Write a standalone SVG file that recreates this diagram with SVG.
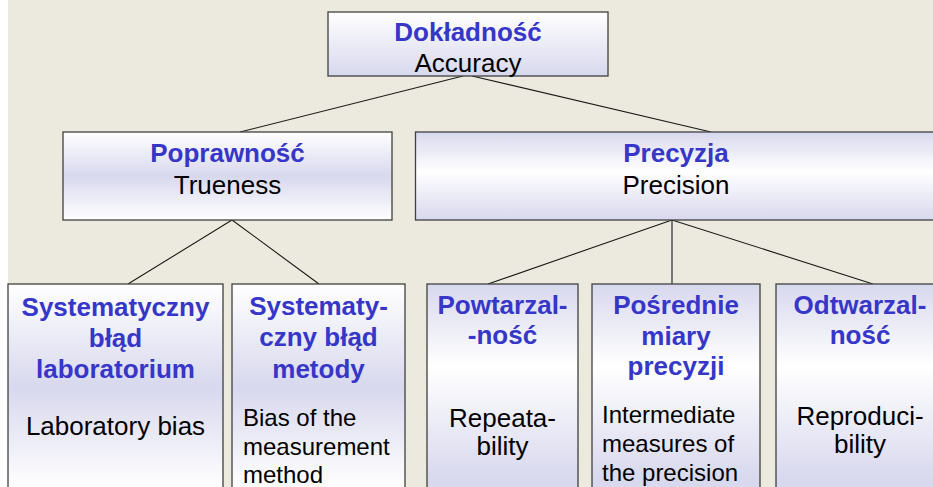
<svg xmlns="http://www.w3.org/2000/svg" width="933" height="487" viewBox="0 0 933 487">
<defs>
<linearGradient id="gTop" x1="0" y1="0" x2="0" y2="1">
<stop offset="0" stop-color="#ffffff"/><stop offset="1" stop-color="#d8d8ee"/>
</linearGradient>
<linearGradient id="gWLW" x1="0" y1="0" x2="0" y2="1">
<stop offset="0" stop-color="#ffffff"/><stop offset="0.5" stop-color="#d8d8ee"/><stop offset="1" stop-color="#ffffff"/>
</linearGradient>
<linearGradient id="gLWL" x1="0" y1="0" x2="0" y2="1">
<stop offset="0" stop-color="#d8d8ee"/><stop offset="0.45" stop-color="#ffffff"/><stop offset="1" stop-color="#d8d8ee"/>
</linearGradient>
<linearGradient id="gLWL2" x1="0" y1="0" x2="0" y2="1">
<stop offset="0" stop-color="#d8d8ee"/><stop offset="0.4" stop-color="#ffffff"/><stop offset="0.95" stop-color="#d8d8ee"/>
</linearGradient>
</defs>
<style>
.box{stroke:#404040;stroke-width:1.3}
.pl{font-family:"Liberation Sans",Arial,sans-serif;font-size:26px;font-weight:bold;fill:#3636c8;text-anchor:middle}
.en{font-family:"Liberation Sans",Arial,sans-serif;font-size:26px;fill:#000;text-anchor:middle}
.enl{font-family:"Liberation Sans",Arial,sans-serif;font-size:24px;fill:#000}
.ln{stroke:#1a1a1a;stroke-width:1.1;fill:none}
</style>
<rect x="0" y="0" width="933" height="487" fill="#ece9df"/>
<rect x="0" y="0" width="8" height="487" fill="#ffffff"/>
<g id="connectors">
<line class="ln" x1="463" y1="76" x2="240" y2="132"/>
<line class="ln" x1="472" y1="76" x2="711" y2="132"/>
<line class="ln" x1="232" y1="220" x2="128" y2="284"/>
<line class="ln" x1="232" y1="220" x2="319" y2="284"/>
<line class="ln" x1="672" y1="220" x2="488" y2="284"/>
<line x1="672" y1="220" x2="672" y2="284" stroke="#6a6a6a" stroke-width="1.8"/>
<line class="ln" x1="672" y1="220" x2="873" y2="284"/>
</g>
<g id="accuracy">
<rect class="box" x="328" y="12" width="280" height="64" fill="url(#gTop)"/>
<text class="pl" x="468" y="41">Dokładność</text>
<text class="en" x="468" y="72">Accuracy</text>
</g>
<g id="trueness">
<rect class="box" x="63" y="132" width="329" height="88" fill="url(#gWLW)"/>
<text class="pl" x="227.5" y="162">Poprawność</text>
<text class="en" x="227.5" y="194">Trueness</text>
</g>
<g id="precision">
<rect class="box" x="415.5" y="132" width="522" height="88" fill="url(#gLWL)"/>
<text class="pl" x="676" y="162">Precyzja</text>
<text class="en" x="676" y="194">Precision</text>
</g>
<g id="lab-bias">
<rect class="box" x="8" y="284" width="215" height="206" fill="url(#gWLW)"/>
<text class="pl" x="115.5" y="316">Systematyczny</text>
<text class="pl" x="115.5" y="347">błąd</text>
<text class="pl" x="115.5" y="378">laboratorium</text>
<text class="en" x="115.5" y="435">Laboratory bias</text>
</g>
<g id="method-bias">
<rect class="box" x="232" y="284" width="173" height="206" fill="url(#gWLW)"/>
<text class="pl" x="318.5" y="315">Systematy-</text>
<text class="pl" x="318.5" y="346">czny błąd</text>
<text class="pl" x="318.5" y="378">metody</text>
<text class="enl" x="243" y="426">Bias of the</text>
<text class="enl" x="243" y="455">measurement</text>
<text class="enl" x="243" y="483">method</text>
</g>
<g id="repeatability">
<rect class="box" x="427" y="284" width="151" height="206" fill="url(#gLWL2)"/>
<text class="pl" x="502.5" y="314">Powtarzal-</text>
<text class="pl" x="502.5" y="344">-ność</text>
<text class="en" x="502.5" y="427">Repeata-</text>
<text class="en" x="502.5" y="455">bility</text>
</g>
<g id="intermediate">
<rect class="box" x="592" y="284" width="168" height="206" fill="url(#gLWL2)"/>
<text class="pl" x="676" y="314">Pośrednie</text>
<text class="pl" x="676" y="345">miary</text>
<text class="pl" x="676" y="375">precyzji</text>
<text class="enl" x="602" y="423">Intermediate</text>
<text class="enl" x="602" y="452">measures of</text>
<text class="enl" x="602" y="481">the precision</text>
</g>
<g id="reproducibility">
<rect class="box" x="776" y="284" width="168" height="206" fill="url(#gLWL2)"/>
<text class="pl" x="860" y="314">Odtwarzal-</text>
<text class="pl" x="860" y="344">ność</text>
<text class="en" x="860" y="425">Reproduci-</text>
<text class="en" x="860" y="453">bility</text>
</g>
</svg>
